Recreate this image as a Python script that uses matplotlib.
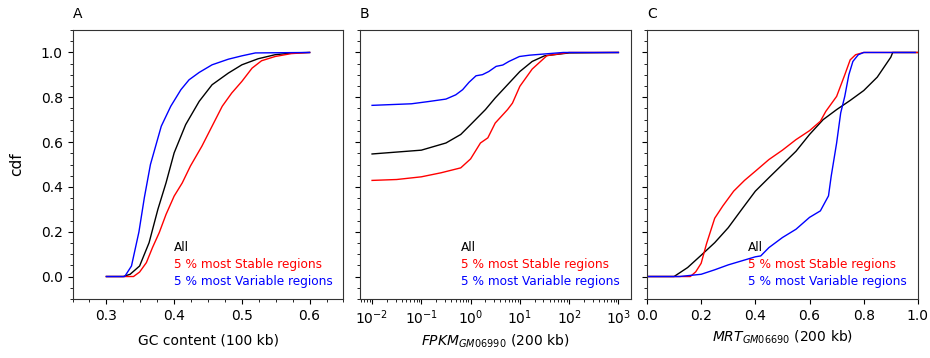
import numpy as np
import matplotlib
matplotlib.use("Agg")
import matplotlib.pyplot as plt
from matplotlib.ticker import AutoMinorLocator, MultipleLocator, NullLocator

labels = ["All", "5 % most Stable regions", "5 % most Variable regions"]
colors = ["black", "red", "blue"]

# panel A: GC content
gc_all_x = [0.30, 0.325, 0.335, 0.349, 0.363, 0.376, 0.388, 0.40, 0.417, 0.437, 0.456, 0.48, 0.50, 0.524, 0.549, 0.575, 0.60]
gc_all_y = [0.0, 0.0, 0.01, 0.047, 0.151, 0.30, 0.418, 0.552, 0.678, 0.782, 0.856, 0.908, 0.945, 0.972, 0.99, 0.998, 1.0]
gc_stable_x = [0.30, 0.34, 0.349, 0.359, 0.368, 0.378, 0.388, 0.40, 0.412, 0.424, 0.441, 0.456, 0.471, 0.485, 0.50, 0.515, 0.529, 0.549, 0.573, 0.60]
gc_stable_y = [0.0, 0.0, 0.02, 0.062, 0.129, 0.196, 0.277, 0.359, 0.418, 0.493, 0.582, 0.671, 0.76, 0.819, 0.871, 0.93, 0.963, 0.982, 0.995, 1.0]
gc_var_x = [0.30, 0.327, 0.337, 0.348, 0.356, 0.365, 0.381, 0.395, 0.41, 0.422, 0.437, 0.456, 0.48, 0.50, 0.52, 0.60]
gc_var_y = [0.0, 0.0, 0.047, 0.199, 0.352, 0.50, 0.671, 0.76, 0.834, 0.878, 0.911, 0.945, 0.97, 0.985, 0.998, 1.0]

# panel B: FPKM
fpkm_all_x = [0.01, 0.1, 0.316, 0.631, 1.0, 2.0, 3.16, 5.62, 10, 17.8, 31.6, 100, 1000]
fpkm_all_y = [0.547, 0.564, 0.596, 0.634, 0.678, 0.745, 0.797, 0.856, 0.915, 0.96, 0.985, 0.998, 1.0]
fpkm_stable_x = [0.01, 0.0316, 0.1, 0.251, 0.631, 1.0, 1.585, 2.24, 3.16, 5.62, 7.08, 10, 17.8, 35.5, 100, 1000]
fpkm_stable_y = [0.429, 0.433, 0.445, 0.463, 0.485, 0.525, 0.596, 0.619, 0.685, 0.745, 0.774, 0.849, 0.926, 0.986, 1.0, 1.0]
fpkm_var_x = [0.01, 0.063, 0.14, 0.316, 0.5, 0.69, 0.93, 1.29, 1.74, 2.34, 3.3, 4.5, 6.0, 9.8, 15.8, 34.7, 75.9, 1000]
fpkm_var_y = [0.764, 0.771, 0.781, 0.792, 0.811, 0.834, 0.867, 0.896, 0.901, 0.915, 0.938, 0.944, 0.96, 0.982, 0.988, 0.994, 1.0, 1.0]

# panel C: MRT
mrt_all_x = [0.0, 0.10, 0.15, 0.20, 0.25, 0.30, 0.35, 0.40, 0.45, 0.50, 0.55, 0.60, 0.65, 0.70, 0.75, 0.80, 0.85, 0.90, 0.907, 1.0]
mrt_all_y = [0.0, 0.0, 0.04, 0.095, 0.151, 0.218, 0.30, 0.381, 0.441, 0.50, 0.559, 0.634, 0.70, 0.745, 0.786, 0.83, 0.89, 0.979, 1.0, 1.0]
mrt_stable_x = [0.0, 0.16, 0.18, 0.20, 0.22, 0.25, 0.28, 0.32, 0.36, 0.40, 0.45, 0.50, 0.55, 0.60, 0.64, 0.66, 0.70, 0.73, 0.75, 0.77, 0.80, 1.0]
mrt_stable_y = [0.0, 0.0, 0.021, 0.059, 0.147, 0.26, 0.315, 0.381, 0.429, 0.47, 0.522, 0.564, 0.611, 0.651, 0.693, 0.737, 0.804, 0.90, 0.967, 0.99, 1.0, 1.0]
mrt_var_x = [0.0, 0.12, 0.20, 0.25, 0.30, 0.35, 0.40, 0.42, 0.45, 0.50, 0.55, 0.60, 0.64, 0.67, 0.68, 0.69, 0.70, 0.715, 0.73, 0.745, 0.76, 0.78, 0.80, 0.99]
mrt_var_y = [0.0, 0.0, 0.01, 0.03, 0.052, 0.07, 0.088, 0.092, 0.129, 0.174, 0.211, 0.264, 0.293, 0.36, 0.448, 0.522, 0.596, 0.73, 0.804, 0.90, 0.96, 0.99, 1.0, 1.0]

panels = [
    ("A", "GC content (100 kb)", 8, [(gc_all_x, gc_all_y), (gc_stable_x, gc_stable_y), (gc_var_x, gc_var_y)]),
    ("B", r"$FPKM_{GM06990}$ (200 kb)", 4, [(fpkm_all_x, fpkm_all_y), (fpkm_stable_x, fpkm_stable_y), (fpkm_var_x, fpkm_var_y)]),
    ("C", r"$MRT_{GM06690}$ (200 kb)", 4, [(mrt_all_x, mrt_all_y), (mrt_stable_x, mrt_stable_y), (mrt_var_x, mrt_var_y)]),
]

plt.rcParams['font.size'] = 10
fig, axes = plt.subplots(1, 3, figsize=(9.3, 3.58), dpi=100, sharey=True)
fig.subplots_adjust(left=0.078, right=0.987, top=0.916, bottom=0.165, wspace=0.06)

for ax, (letter, xlabel, pad, curves) in zip(axes, panels):
    for (x, y), c, lab in zip(curves, colors, labels):
        ax.plot(x, y, color=c, lw=1.0, label=lab)
    ax.set_title(letter, loc='left', fontsize=10, pad=9)
    ax.set_xlabel(xlabel, labelpad=pad)
    ax.legend(loc='lower right', frameon=False, handlelength=0, handletextpad=0,
              labelcolor='linecolor', fontsize=8.7, labelspacing=0.35)
    ax.yaxis.set_minor_locator(AutoMinorLocator(4))
    for s in ax.spines.values():
        s.set_color('0.2')

axes[0].set_ylim(-0.1, 1.1)
axes[0].set_ylabel("cdf", labelpad=12, fontsize=11)
axes[0].set_xlim(0.25, 0.65)
axes[0].xaxis.set_major_locator(MultipleLocator(0.1))
axes[0].xaxis.set_minor_locator(AutoMinorLocator(4))
axes[1].set_xscale('log')
axes[2].set_xlim(0.0, 1.0)
axes[2].xaxis.set_minor_locator(NullLocator())

fig.savefig("out.png", dpi=100)
